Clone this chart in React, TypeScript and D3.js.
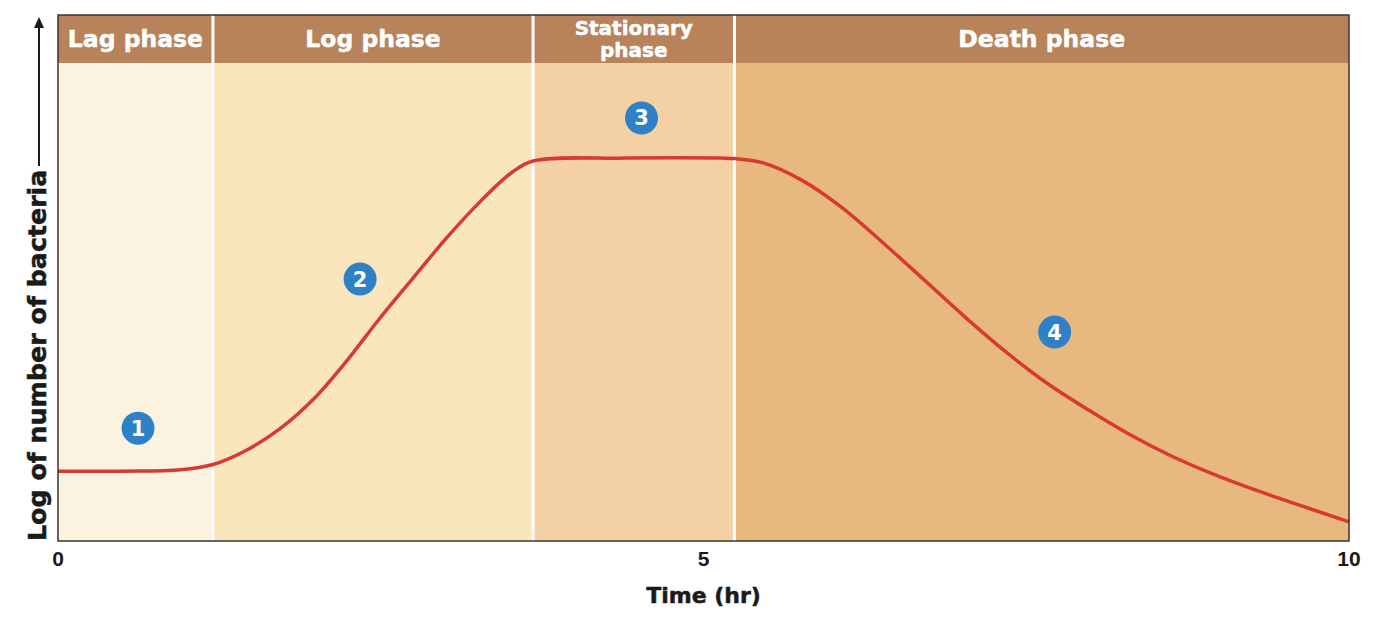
import React from 'react';
import * as d3 from 'd3';

// growth curve: hours vs log count (arbitrary 0-10 units)
const curveHours = [0, 0.5, 0.95, 1.2, 1.46, 1.72, 1.98, 2.24, 2.49, 2.75, 3.01, 3.27, 3.52, 3.68, 4.4, 5.13, 5.24, 5.45, 5.76, 6.07, 6.39, 6.71, 7.02, 7.34, 7.65, 7.97, 8.28, 8.6, 8.92, 9.23, 9.54, 10];
const curveLog = [1.46, 1.46, 1.49, 1.6, 1.9, 2.35, 2.97, 3.78, 4.65, 5.5, 6.34, 7.1, 7.72, 7.95, 8.01, 8.01, 8.0, 7.92, 7.55, 6.98, 6.24, 5.46, 4.7, 3.96, 3.32, 2.76, 2.26, 1.81, 1.43, 1.11, 0.82, 0.4];

const phaseNames = [['Lag phase'], ['Log phase'], ['Stationary', 'phase'], ['Death phase']];
const phaseStarts = [0, 1.2, 3.68, 5.24];
const phaseEnds = [1.2, 3.68, 5.24, 10];
const phaseColors = ['#fbf2df', '#fae6bc', '#f3d1a5', '#e8b97e'];

const markerLabels = ['1', '2', '3', '4'];
const markerHours = [0.62, 2.34, 4.52, 7.72];
const markerLog = [2.36, 5.48, 8.85, 4.37];

const xTicks = [0, 5, 10];

const W = 1382;
const H = 618;
const margin = { t: 15, b: 77, l: 58, r: 33 };
const headerH = 48;

const boldFont = '"DejaVu Sans", sans-serif';

export default function App() {
    const x = d3.scaleLinear().domain([0, 10]).range([margin.l, W - margin.r]);
    const y = d3.scaleLinear().domain([0, 10]).range([H - margin.b, margin.t + headerH]);

    const pts = curveHours.map((h, i) => [h, curveLog[i]] as [number, number]);
    const line = d3.line<[number, number]>()
        .x(d => x(d[0]))
        .y(d => y(d[1]))
        .curve(d3.curveCatmullRom.alpha(0.5));

    const top = margin.t;
    const bottom = H - margin.b;
    const axisX = 39;

    return (
        <div style={{ position: 'absolute', left: 0, top: 0 }}>
            <svg width={W} height={H} style={{ display: 'block', background: '#fff' }}>
                {/* phase backgrounds */}
                {phaseStarts.map((s, i) =>
                    <rect key={'bg' + i} x={x(s)} y={top} width={x(phaseEnds[i]) - x(s)} height={bottom - top} fill={phaseColors[i]} />
                )}
                {/* header band */}
                <rect x={x(0)} y={top} width={x(10) - x(0)} height={headerH} fill="#b8825b" />
                {/* white separators */}
                {phaseStarts.slice(1).map((s, i) =>
                    <line key={'sep' + i} x1={x(s)} x2={x(s)} y1={top} y2={bottom} stroke="#fff" strokeWidth={3} />
                )}
                {/* header labels */}
                {phaseNames.map((lines, i) => {
                    const cx = (x(phaseStarts[i]) + x(phaseEnds[i])) / 2;
                    const baselines = lines.length === 1 ? [top + 32] : [top + 20, top + 42];
                    return lines.map((t, j) =>
                        <text key={'ph' + i + j} x={cx} y={baselines[j]} textAnchor="middle"
                            fontFamily={boldFont} fontWeight="bold" fontSize={lines.length === 1 ? 23.5 : 20}
                            fill="#fff" stroke="#fff" strokeWidth={0.5}>{t}</text>
                    );
                })}
                {/* growth curve */}
                <path d={line(pts) || ''} fill="none" stroke="#d83a33" strokeWidth={3.5} />
                {/* numbered markers */}
                {markerLabels.map((m, i) =>
                    <g key={'m' + i} transform={`translate(${x(markerHours[i])},${y(markerLog[i])})`}>
                        <circle r={16.5} fill="#2f80c6" />
                        <text y={7.5} textAnchor="middle" fontFamily={boldFont} fontWeight="bold" fontSize={21} fill="#fff">{m}</text>
                    </g>
                )}
                {/* frame */}
                <rect x={x(0)} y={top} width={x(10) - x(0)} height={bottom - top} fill="none" stroke="#3a3430" strokeWidth={1.5} />
                {/* x ticks */}
                {xTicks.map(t =>
                    <text key={'xt' + t} x={x(t)} y={bottom + 25} textAnchor="middle"
                        fontFamily='"Liberation Sans", Arial, sans-serif' fontWeight="bold" fontSize={21} fill="#1a1a1a">{t}</text>
                )}
                <text x={(x(0) + x(10)) / 2} y={603} textAnchor="middle" fontFamily={boldFont} fontWeight="bold"
                    fontSize={22} fill="#1a1a1a" stroke="#1a1a1a" strokeWidth={0.5}>Time (hr)</text>
                {/* y axis label with arrow */}
                <text transform={`translate(46,${bottom}) rotate(-90)`} fontFamily={boldFont} fontWeight="bold"
                    fontSize={25.3} fill="#1a1a1a" stroke="#1a1a1a" strokeWidth={0.5}>Log of number of bacteria</text>
                <line x1={axisX} x2={axisX} y1={166} y2={24} stroke="#1a1a1a" strokeWidth={2} />
                <path d={`M${axisX},17 L${axisX - 5},28 L${axisX + 5},28 Z`} fill="#1a1a1a" />
            </svg>
        </div>
    );
}
